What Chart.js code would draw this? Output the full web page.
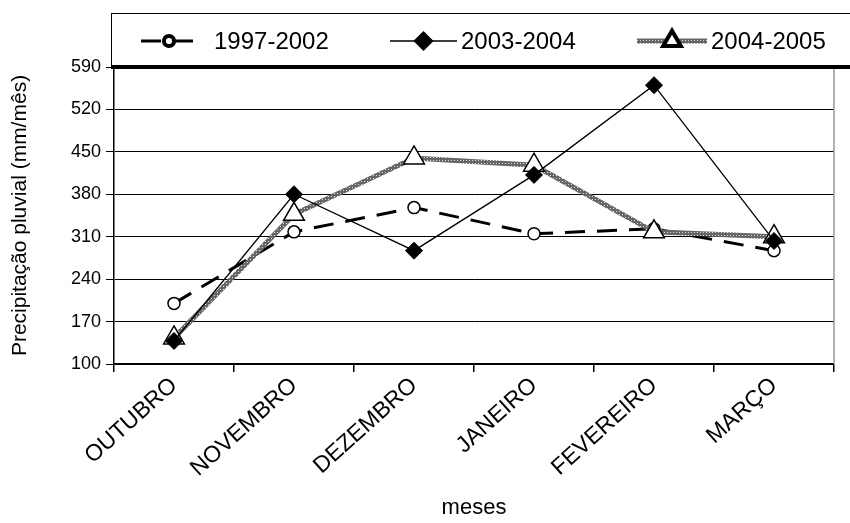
<!DOCTYPE html>
<html>
<head>
<meta charset="utf-8">
<script src="https://cdn.jsdelivr.net/npm/chart.js@4.4.1/dist/chart.umd.min.js"></script>
<style>
  html, body { margin: 0; padding: 0; background: #fff; }
  #wrap { width: 850px; height: 523px; }
</style>
</head>
<body>
<div id="wrap"><canvas id="chart"></canvas></div>
<script>
const meses = ['OUTUBRO', 'NOVEMBRO', 'DEZEMBRO', 'JANEIRO', 'FEVEREIRO', 'MARÇO'];
const serieNomes = ['1997-2002', '2003-2004', '2004-2005'];
const chuva1997 = [200, 318, 358, 315, 323, 287];
const chuva2003 = [138, 380, 287, 412, 560, 303];
const chuva2004 = [143, 347, 440, 428, 318, 310];
const yTicks = [100, 170, 240, 310, 380, 450, 520, 590];

const FONT = 'Arial, "Liberation Sans", sans-serif';

// textura cinza da linha 2004-2005
function makePattern() {
  const c = document.createElement('canvas');
  c.width = 3; c.height = 3;
  const g = c.getContext('2d');
  g.fillStyle = '#666';
  g.fillRect(0, 0, 3, 3);
  g.fillStyle = '#e0e0e0';
  g.fillRect(1, 1, 1, 1);
  return g.createPattern(c, 'repeat');
}
const padrao = makePattern();

// legenda em caixa no topo + moldura
const legendBox = {
  id: 'legendBox',
  afterDraw(chart) {
    const ctx = chart.ctx;
    const area = chart.chartArea;
    ctx.save();
    ctx.strokeStyle = '#000';
    ctx.lineWidth = 1;
    ctx.strokeRect(111.5, 13.5, 800, area.top - 13);
    // borda direita cinza
    ctx.strokeStyle = '#999';
    ctx.lineWidth = 1.5;
    ctx.beginPath();
    ctx.moveTo(area.right, area.top);
    ctx.lineTo(area.right, area.bottom);
    ctx.stroke();
    // linha grossa no topo
    ctx.strokeStyle = '#000';
    ctx.lineWidth = 4;
    ctx.beginPath();
    ctx.moveTo(111, area.top);
    ctx.lineTo(850, area.top);
    ctx.stroke();

    const items = [
      { x0: 141, x1: 197, tx: 214 },
      { x0: 390, x1: 457, tx: 461 },
      { x0: 637, x1: 707, tx: 711 },
    ];
    const ly = 41;
    chart.data.datasets.forEach((ds, i) => {
      const it = items[i];
      ctx.save();
      ctx.strokeStyle = ds.borderColor;
      ctx.lineWidth = ds.borderWidth;
      ctx.setLineDash(ds.borderDash || []);
      ctx.beginPath();
      ctx.moveTo(it.x0, ly);
      ctx.lineTo(it.x1, ly);
      ctx.stroke();
      ctx.restore();
      ctx.save();
      ctx.fillStyle = ds.pointBackgroundColor;
      ctx.strokeStyle = ds.pointBorderColor;
      Chart.helpers.drawPoint(ctx, {
        pointStyle: ds.pointStyle,
        radius: ds.pointRadius * 0.85,
        rotation: 0,
        borderWidth: ds.pointBorderWidth,
      }, (it.x0 + it.x1) / 2, ly);
      ctx.restore();
      ctx.fillStyle = '#000';
      ctx.font = '24px ' + FONT;
      ctx.textBaseline = 'middle';
      ctx.textAlign = 'left';
      ctx.fillText(ds.label, it.tx, ly + 1);
    });
    ctx.restore();
  },
};

new Chart(document.getElementById('chart'), {
  type: 'line',
  data: {
    labels: meses,
    datasets: [
      {
        label: serieNomes[0],
        data: chuva1997,
        borderColor: '#000',
        borderWidth: 3,
        borderDash: [20, 12],
        pointStyle: 'circle',
        pointRadius: 6,
        pointBackgroundColor: '#fff',
        pointBorderColor: '#000',
        pointBorderWidth: 1.5,
        order: 2,
      },
      {
        label: serieNomes[1],
        data: chuva2003,
        borderColor: '#000',
        borderWidth: 1.3,
        pointStyle: 'rectRot',
        pointRadius: 8.5,
        pointBackgroundColor: '#000',
        pointBorderColor: '#000',
        pointBorderWidth: 1,
        order: 0,
      },
      {
        label: serieNomes[2],
        data: chuva2004,
        borderColor: padrao,
        borderWidth: 5,
        pointStyle: 'triangle',
        pointRadius: 12,
        pointBackgroundColor: '#fff',
        pointBorderColor: '#000',
        pointBorderWidth: 1.5,
        order: 1,
      },
    ],
  },
  options: {
    responsive: true,
    maintainAspectRatio: false,
    animation: false,
    layout: { padding: { top: 67, right: 16, left: 0, bottom: 0 } },
    plugins: {
      legend: { display: false },
      tooltip: { enabled: false },
    },
    elements: { line: { tension: 0 } },
    scales: {
      x: {
        offset: true,
        grid: {
          offset: true,
          drawOnChartArea: false,
          color: '#000',
          tickLength: 8,
          lineWidth: 1.5,
        },
        border: { color: '#000', width: 1.5 },
        ticks: {
          color: '#000',
          font: { family: FONT, size: 23 },
          minRotation: 42,
          maxRotation: 42,
          padding: 0,
        },
        title: {
          display: true,
          text: 'meses',
          color: '#000',
          font: { family: FONT, size: 22 },
          padding: { top: 0, bottom: 2 },
        },
        afterFit(s) { s.height = 159; },
      },
      y: {
        min: 100,
        max: 590,
        afterBuildTicks(s) { s.ticks = yTicks.map((v) => ({ value: v })); },
        grid: { color: '#000', lineWidth: 1, tickLength: 8 },
        border: { color: '#000', width: 1.5 },
        ticks: {
          color: '#000',
          font: { family: FONT, size: 18 },
          padding: 5,
        },
        title: {
          display: true,
          text: 'Precipitação pluvial (mm/mês)',
          color: '#000',
          font: { family: FONT, size: 21 },
          padding: { top: 8, bottom: 0 },
        },
        afterFit(s) { s.width = 114; },
      },
    },
  },
  plugins: [legendBox],
});
</script>
</body>
</html>
